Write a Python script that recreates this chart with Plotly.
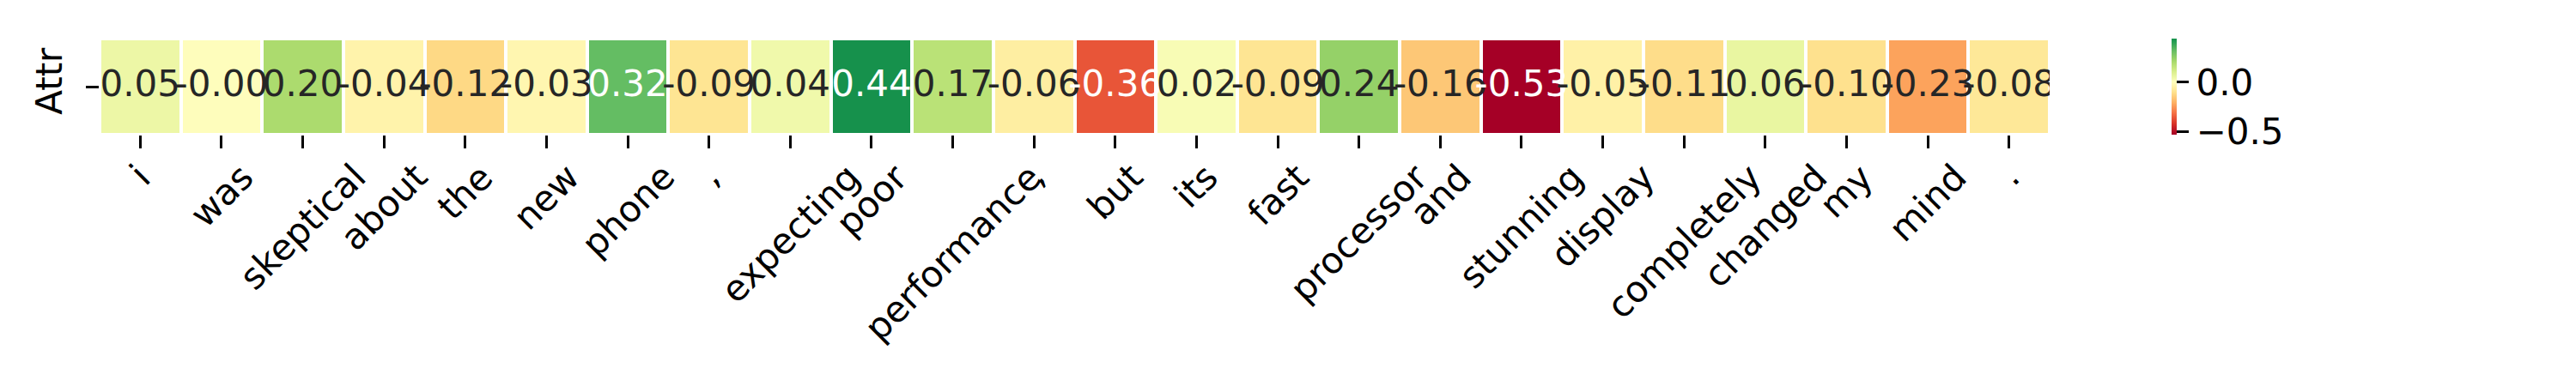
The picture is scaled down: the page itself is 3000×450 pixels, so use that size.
import plotly.graph_objects as go

tokens = [
    "i", "was", "skeptical", "about", "the", "new", "phone", ",",
    "expecting", "poor", "performance", ",", "but", "its", "fast",
    "processor", "and", "stunning", "display", "completely", "changed",
    "my", "mind", ".",
]
attr = [
    0.05, -0.00, 0.20, -0.04, -0.12, -0.03, 0.32, -0.09,
    0.04, 0.44, 0.17, -0.06, -0.36, 0.02, -0.09,
    0.24, -0.16, -0.53, -0.05, -0.11, 0.06,
    -0.10, -0.23, -0.08,
]
row_label = ["Attr"]
cbar_ticks = [-0.5, 0.0]

# RdYlGn, as seaborn centres it at 0 (only the part up to vmax is used)
rdylgn = ["#a50026", "#d73027", "#f46d43", "#fdae61", "#fee08b", "#ffffbf",
          "#d9ef8b", "#a6d96a", "#66bd63", "#1a9850", "#006837"]


def hex2rgb(h):
    return tuple(int(h[i:i + 2], 16) for i in (1, 3, 5))


def cmap(p):
    # linear interpolation over the 11 RdYlGn stops, p in [0, 1]
    p = min(max(p, 0.0), 1.0) * 10
    i = min(int(p), 9)
    f = p - i
    a, b = hex2rgb(rdylgn[i]), hex2rgb(rdylgn[i + 1])
    return tuple(a[k] + (b[k] - a[k]) * f for k in range(3))


vmin, vmax = min(attr), max(attr)
vrange = max(vmax, -vmin)
cmin = (vmin + vrange) / (2 * vrange)
cmax = (vmax + vrange) / (2 * vrange)

colorscale = []
n = 40
for k in range(n + 1):
    p = cmin + (cmax - cmin) * k / n
    r, g, b = cmap(p)
    colorscale.append([k / n, f"rgb({r:.0f},{g:.0f},{b:.0f})"])


def lum(rgb):
    out = []
    for c in rgb:
        c = c / 255
        out.append(c / 12.92 if c <= 0.03928 else ((c + 0.055) / 1.055) ** 2.4)
    return 0.2126 * out[0] + 0.7152 * out[1] + 0.0722 * out[2]


text_colors = []
for v in attr:
    rgb = cmap(cmin + (cmax - cmin) * (v - vmin) / (vmax - vmin))
    text_colors.append("#262626" if lum(rgb) > 0.408 else "white")

idx = list(range(len(tokens)))
FS = 42
FONT = "DejaVu Sans"

fig = go.Figure()
fig.add_trace(go.Heatmap(
    z=[attr],
    x=idx,
    y=[0],
    zmin=vmin,
    zmax=vmax,
    colorscale=colorscale,
    xgap=4,
    ygap=4,
    hoverinfo="skip",
    colorbar=dict(
        x=(2529 - 116) / 2271,
        xanchor="left",
        y=1,
        yanchor="top",
        xpad=0,
        ypad=0,
        thickness=6,
        lenmode="pixels",
        len=112,
        outlinewidth=0,
        ticks="outside",
        ticklen=14.6,
        tickwidth=3.3,
        tickcolor="black",
        tickvals=cbar_ticks,
        tickformat=".1f",
        tickfont=dict(family=FONT, size=FS, color="black"),
    ),
))
fig.add_trace(go.Scatter(
    x=idx,
    y=[0] * len(idx),
    mode="text",
    text=[f"{v:.2f}" for v in attr],
    textposition="middle center",
    textfont=dict(family=FONT, size=FS, color=text_colors),
    hoverinfo="skip",
    showlegend=False,
))

for i, t in zip(idx, tokens):
    fig.add_annotation(
        x=i, xref="x",
        y=0, yref="paper",
        yshift=-22,
        text=t,
        textangle=-45,
        xanchor="center",
        yanchor="top",
        showarrow=False,
        font=dict(family=FONT, size=FS, color="black"),
    )

fig.update_xaxes(
    range=[-0.5, len(tokens) - 0.5],
    tickvals=idx,
    showticklabels=False,
    ticks="outside",
    ticklen=14.6,
    tickwidth=3.3,
    tickcolor="black",
    showgrid=False,
    zeroline=False,
    showline=False,
)
fig.update_yaxes(
    range=[-0.5, 0.5],
    tickvals=[0],
    ticktext=row_label,
    tickangle=-90,
    ticks="outside",
    ticklen=14.6,
    tickwidth=3.3,
    tickcolor="black",
    ticklabelstandoff=12,
    tickfont=dict(family=FONT, size=FS, color="black"),
    showgrid=False,
    zeroline=False,
    showline=False,
)
# the page body adds an 8px margin, so the figure is 16px smaller
fig.update_layout(
    width=2984,
    height=434,
    margin=dict(l=108, r=605, t=37, b=285),
    plot_bgcolor="white",
    paper_bgcolor="white",
    font=dict(family=FONT),
    showlegend=False,
)

fig.write_html("out.html")
